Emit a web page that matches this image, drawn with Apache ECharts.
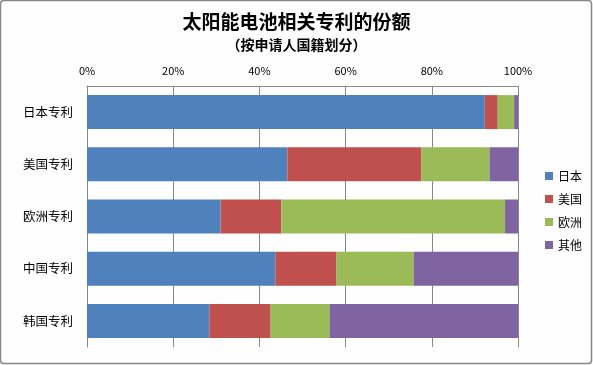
<!DOCTYPE html>
<html><head><meta charset="utf-8">
<script src="https://cdn.jsdelivr.net/npm/echarts@6/dist/echarts.min.js"></script>
<style>html,body{margin:0;padding:0;background:#fff}#c{width:593px;height:365px}</style>
</head><body><div id="c"></div>
<script>
const categories = ['日本专利','美国专利','欧洲专利','中国专利','韩国专利'];
const seriesNames = ['日本','美国','欧洲','其他'];
const japan = [92.3, 46.5, 31.0, 43.7, 28.4];
const usa = [3.0, 31.1, 14.1, 14.2, 14.2];
const europe = [3.8, 15.8, 51.9, 17.9, 13.7];
const other = [0.9, 6.6, 3.0, 24.2, 43.7];
const colors = ['#4f81bd','#c0504d','#9bbb59','#8064a2'];
const values = [japan, usa, europe, other];

const chart = echarts.init(document.getElementById('c'), null, {renderer:'canvas'});
const font = '"Noto Sans CJK SC", sans-serif';
chart.setOption({
  backgroundColor: '#fdfefd',
  animation: false,
  title: [
    {text:'太阳能电池相关专利的份额', left:'center', top:7, textStyle:{fontFamily:font, fontSize:19, fontWeight:'bold', color:'#000'}},
    {text:'（按申请人国籍划分）', left:'center', top:33, textStyle:{fontFamily:font, fontSize:14, fontWeight:'bold', color:'#000'}}
  ],
  graphic: [{type:'rect', shape:{x:0.5,y:0.5,width:591,height:363, r:3}, style:{fill:null, stroke:'#888', lineWidth:1.5}}],
  legend: {
    orient:'vertical', left:540, top:165, itemWidth:8, itemHeight:8, itemGap:11,
    icon:'rect', textStyle:{fontFamily:font, fontSize:12, color:'#000'},
    data: seriesNames
  },
  grid: {left:87, right:75, top:86, bottom:18, containLabel:false},
  xAxis: {
    type:'value', position:'top', min:0, max:100, interval:20,
    axisLine:{show:true, lineStyle:{color:'#888'}},
    axisTick:{show:false},
    axisLabel:{formatter:'{value}%', fontFamily:font, fontSize:11, color:'#000', margin:10},
    splitLine:{show:true, lineStyle:{color:'#888', width:1}}
  },
  yAxis: {
    type:'category', data:categories, inverse:true,
    axisLine:{show:true, lineStyle:{color:'#888'}},
    axisTick:{show:false},
    axisLabel:{fontFamily:font, fontSize:12.5, color:'#000', margin:14}
  },
  series: seriesNames.map((n,i)=>({
    name:n, type:'bar', stack:'s', data:values[i], barWidth:34,
    itemStyle:{color:colors[i]}
  }))
});
</script></body></html>
